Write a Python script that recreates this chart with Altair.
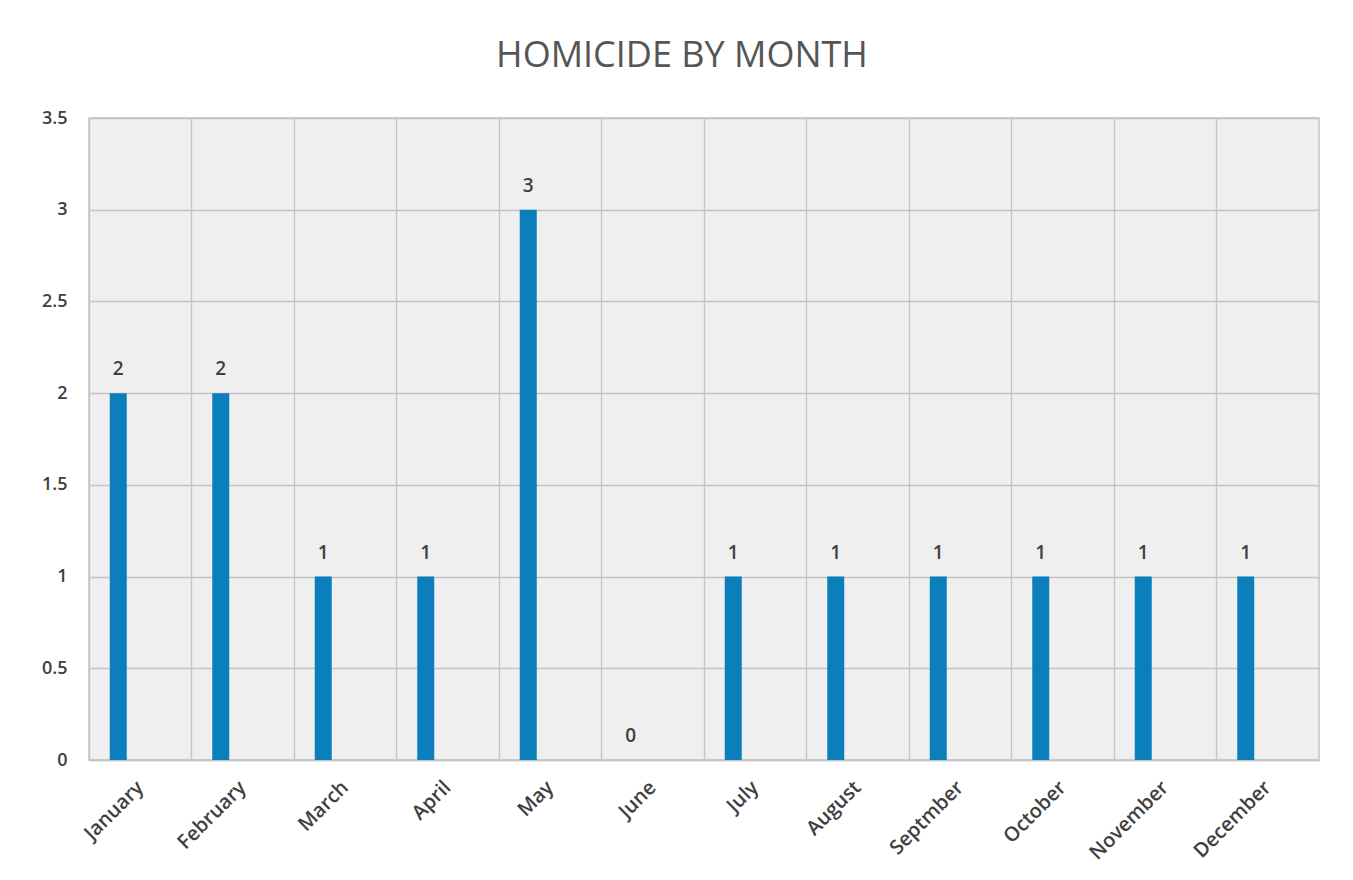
import altair as alt
import pandas as pd

months = ["January", "February", "March", "April", "May", "June", "July",
          "August", "Septmber", "October", "November", "December"]
homicides = [2, 2, 1, 1, 3, 0, 1, 1, 1, 1, 1, 1]
y_ticks = [0, 0.5, 1, 1.5, 2, 2.5, 3, 3.5]

df = pd.DataFrame({"month": months, "count": homicides})

FONT = "Open Sans"
BAR = "#0a7fbb"
GRID = "#c4c4c4"
TXT = "#404040"

x = alt.X("month:N", sort=months, title=None,
          scale=alt.Scale(paddingInner=0, paddingOuter=0),
          axis=alt.Axis(labelAngle=-45, labelFont=FONT, labelFontSize=20,
                        labelFontWeight=600, labelAlign="right",
                        labelColor=TXT, labelPadding=17, labelOffset=-7,
                        ticks=False,
                        domain=True, domainColor=GRID, domainWidth=1.5,
                        grid=True, gridColor=GRID, gridWidth=1.3,
                        bandPosition=0))
y = alt.Y("count:Q", title=None,
          scale=alt.Scale(domain=[0, 3.5], nice=False),
          axis=alt.Axis(values=y_ticks, format="~g", labelFont=FONT,
                        labelFontSize=18, labelFontWeight=600,
                        labelColor=TXT, labelPadding=22,
                        ticks=False, domain=False, grid=True,
                        gridColor=GRID, gridWidth=1.3))

base = alt.Chart(df)
bars = base.mark_bar(width=17, xOffset=-22, color=BAR).encode(x=x, y=y)
labels = base.mark_text(xOffset=-22, dy=-18, baseline="alphabetic",
                        font=FONT, fontSize=19, fontWeight=600,
                        color=TXT).encode(x=x, y=y, text="count:Q")

chart = alt.layer(bars, labels).properties(
    width=1230, height=642,
    padding={"left": 81, "top": 110, "right": 26, "bottom": 112},
    autosize=alt.AutoSizeParams(type="none"),
    title=alt.TitleParams("HOMICIDE BY MONTH", font=FONT, fontSize=36,
                          fontWeight="normal", color="#555555", offset=34,
                          dx=-22, anchor="middle"),
).configure_view(fill="#efefef", stroke=GRID, strokeWidth=1.5)

chart.save("out.html", embed_options={"renderer": "svg", "actions": False})
